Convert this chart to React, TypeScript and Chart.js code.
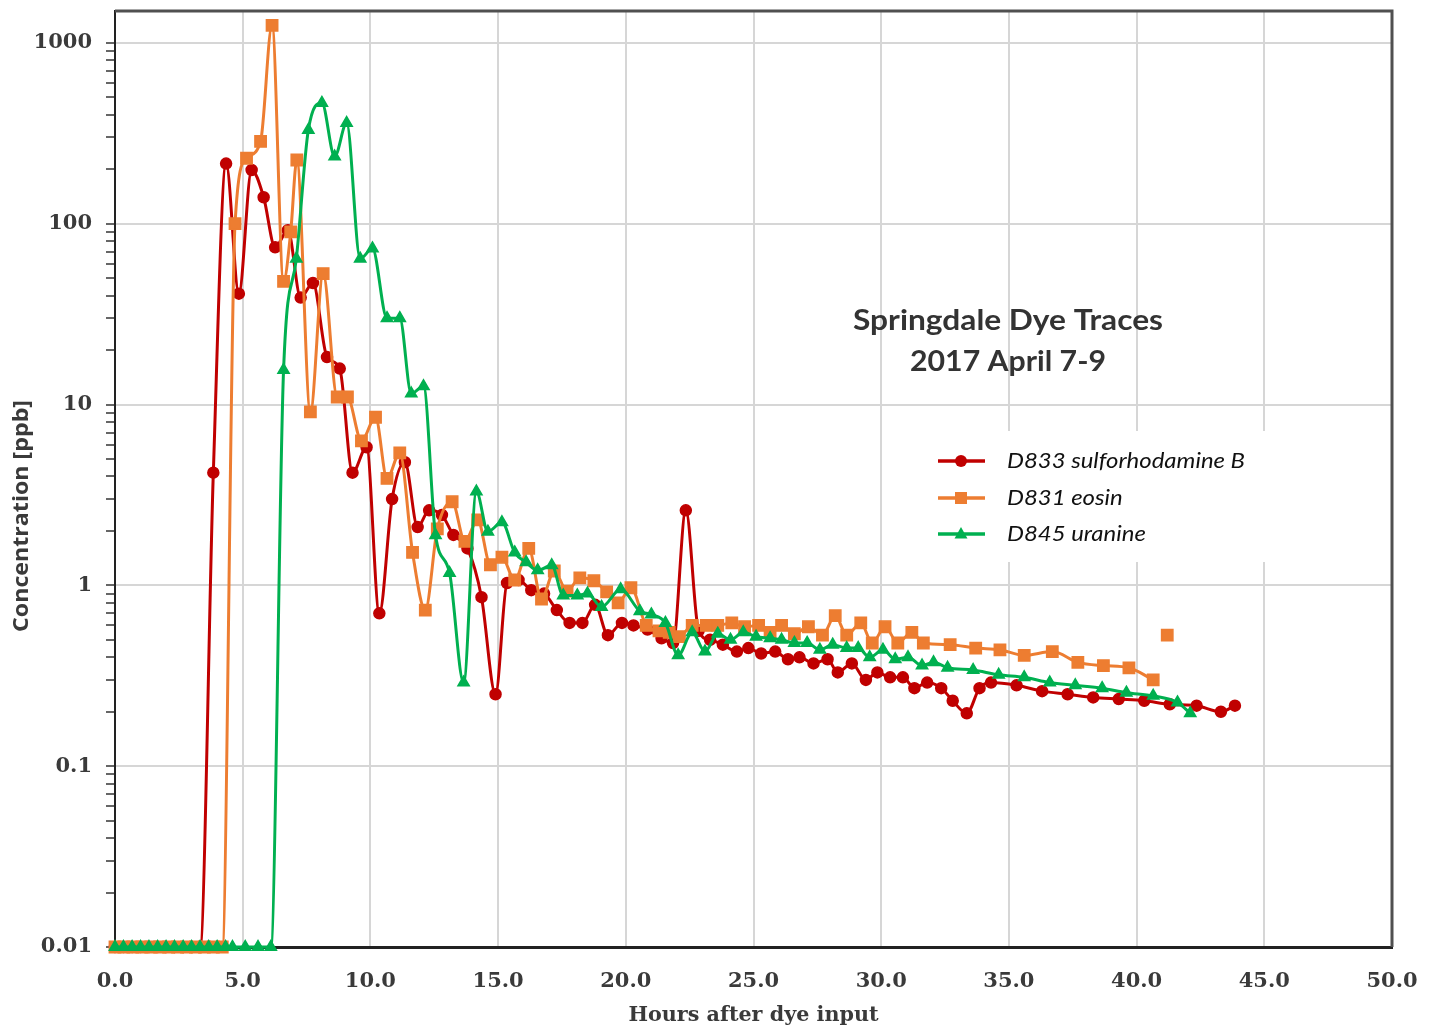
import { useEffect, useRef } from 'react';
import { Chart, registerables } from 'chart.js';

Chart.register(...registerables);

// ---------- Data (hours after dye input, concentration in ppb) ----------
const redHours = [0, 0.33, 0.67, 1, 1.33, 1.67, 2, 2.33, 2.67, 3, 3.33,
  3.85, 4.35, 4.85, 5.35, 5.82, 6.27, 6.77, 7.27, 7.75, 8.3, 8.8, 9.3, 9.85, 10.35, 10.85, 11.35, 11.85,
  12.3, 12.8, 13.25, 13.8, 14.35, 14.9, 15.35, 15.8, 16.3, 16.8, 17.3, 17.8, 18.3, 18.8, 19.3, 19.85,
  20.3, 20.85, 21.4, 21.85, 22.35, 22.85, 23.3, 23.8, 24.35, 24.8, 25.3, 25.85, 26.35, 26.8, 27.35,
  27.9, 28.3, 28.85, 29.4, 29.85, 30.35, 30.85, 31.3, 31.8, 32.35, 32.8, 33.35, 33.85, 34.3, 35.3,
  36.3, 37.3, 38.3, 39.3, 40.3, 41.3, 42.35, 43.3, 43.85];
const redValues = [0.01, 0.01, 0.01, 0.01, 0.01, 0.01, 0.01, 0.01, 0.01, 0.01, 0.01,
  4.2, 215, 41, 198, 140, 74, 92, 39, 47, 18.3, 15.8, 4.2, 5.8, 0.7, 3.0, 4.8, 2.1,
  2.6, 2.45, 1.9, 1.6, 0.86, 0.25, 1.03, 1.07, 0.94, 0.9, 0.73, 0.62, 0.62, 0.78, 0.53, 0.62,
  0.6, 0.57, 0.51, 0.48, 2.6, 0.56, 0.5, 0.47, 0.43, 0.45, 0.42, 0.43, 0.39, 0.4, 0.37,
  0.39, 0.33, 0.37, 0.3, 0.33, 0.31, 0.31, 0.27, 0.29, 0.27, 0.23, 0.196, 0.27, 0.29, 0.28,
  0.26, 0.25, 0.24, 0.235, 0.23, 0.22, 0.216, 0.2, 0.216];

const orangeHours = [0, 0.35, 0.7, 1.05, 1.4, 1.75, 2.1, 2.45, 2.8, 3.15, 3.5, 3.85, 4.2,
  4.7, 5.15, 5.7, 6.15, 6.6, 6.88, 7.12, 7.65, 8.15, 8.7, 9.1, 9.65, 10.2, 10.65, 11.15, 11.65,
  12.15, 12.62, 13.2, 13.7, 14.2, 14.7, 15.15, 15.65, 16.2, 16.7, 17.2, 17.7, 18.2, 18.75, 19.25,
  19.7, 20.2, 20.8, 21.3, 21.7, 22.1, 22.6, 23.15, 23.6, 24.15, 24.65, 25.2, 25.65, 26.1, 26.6,
  27.15, 27.7, 28.2, 28.65, 29.2, 29.65, 30.15, 30.65, 31.2, 31.65, 32.7, 33.7, 34.65, 35.6,
  36.7, 37.7, 38.7, 39.7, 40.65, 40.9, 41.2];
const orangeValues = [0.01, 0.01, 0.01, 0.01, 0.01, 0.01, 0.01, 0.01, 0.01, 0.01, 0.01, 0.01, 0.01,
  100, 230, 285, 1250, 48, 90, 225, 9.1, 53, 11, 11, 6.3, 8.5, 3.9, 5.4, 1.52,
  0.73, 2.05, 2.9, 1.75, 2.3, 1.3, 1.43, 1.07, 1.6, 0.84, 1.2, 0.93, 1.1, 1.06, 0.92,
  0.8, 0.97, 0.6, 0.56, 0.55, 0.52, 0.6, 0.6, 0.6, 0.62, 0.59, 0.6, 0.55, 0.6, 0.54,
  0.59, 0.53, 0.68, 0.53, 0.62, 0.48, 0.59, 0.48, 0.55, 0.48, 0.47, 0.45, 0.44, 0.41,
  0.43, 0.375, 0.36, 0.35, 0.3, null, 0.53];

const greenHours = [0, 0.33, 0.67, 1, 1.33, 1.67, 2, 2.33, 2.67, 3, 3.33, 3.67, 4, 4.33, 4.6, 5.1, 5.6, 6.1,
  6.6, 7.1, 7.57, 8.1, 8.6, 9.07, 9.6, 10.08, 10.65, 11.15, 11.6, 12.08, 12.55, 13.1, 13.65, 14.15,
  14.6, 15.15, 15.65, 16.1, 16.55, 17.1, 17.55, 18.1, 18.5, 19.05, 19.8, 20.55, 21.0, 21.55, 22.05,
  22.6, 23.1, 23.6, 24.1, 24.6, 25.1, 25.65, 26.1, 26.6, 27.1, 27.6, 28.1, 28.65, 29.1, 29.55,
  30.07, 30.55, 31.05, 31.6, 32.05, 32.6, 33.6, 34.6, 35.6, 36.6, 37.6, 38.65, 39.6, 40.65, 41.6, 42.1];
const greenValues = [0.01, 0.01, 0.01, 0.01, 0.01, 0.01, 0.01, 0.01, 0.01, 0.01, 0.01, 0.01, 0.01, 0.01, 0.01, 0.01, 0.01, 0.01,
  15.5, 64, 330, 465, 235, 360, 64, 73, 30, 30, 11.5, 12.6, 1.89, 1.17, 0.29, 3.3,
  1.98, 2.23, 1.52, 1.34, 1.21, 1.29, 0.88, 0.88, 0.9, 0.76, 0.95, 0.72, 0.69, 0.62, 0.41,
  0.55, 0.43, 0.54, 0.5, 0.55, 0.52, 0.51, 0.5, 0.48, 0.48, 0.44, 0.47, 0.45, 0.45, 0.4,
  0.44, 0.39, 0.4, 0.36, 0.375, 0.35, 0.34, 0.32, 0.31, 0.29, 0.28, 0.27, 0.255, 0.245, 0.225, 0.196];

const seriesNames = ['D833 sulforhodamine B', 'D831 eosin', 'D845 uranine'];
const seriesColors = ['#c00000', '#ed7d31', '#00b050'];
const seriesMarkers = ['circle', 'rect', 'triangle'];

const yDecades = [0.01, 0.1, 1, 10, 100, 1000];
const yDecadeLabels = ['0.01', '0.1', '1', '10', '100', '1000'];
const xTickStep = 5;

const chartTitle = ['Springdale Dye Traces', '2017 April 7-9'];
const xTitle = 'Hours after dye input';
const yTitle = 'Concentration [ppb]';

// ---------- helpers ----------
const toPoints = (h: number[], v: (number | null)[]) => h.map((x, i) => ({ x, y: v[i] }));

const yTickValues: number[] = [];
yDecades.forEach((d) => {
  for (let k = 1; k <= 9; k++) {
    const v = Number((d * k).toPrecision(3));
    if (v <= 1000) yTickValues.push(v);
  }
});
const decadeSet = new Set(yDecades);

function fitText(ctx: CanvasRenderingContext2D, text: string, x: number, y: number, target: number, font: string) {
  ctx.save();
  ctx.font = font;
  const w = ctx.measureText(text).width;
  ctx.translate(x, y);
  ctx.scale(target / w, 1);
  ctx.textAlign = 'center';
  ctx.textBaseline = 'middle';
  ctx.fillText(text, 0, 0);
  ctx.restore();
}

function drawMarker(ctx: CanvasRenderingContext2D, kind: string, x: number, y: number, color: string) {
  ctx.save();
  ctx.fillStyle = color;
  ctx.beginPath();
  if (kind === 'circle') {
    ctx.arc(x, y, 6, 0, Math.PI * 2);
  } else if (kind === 'rect') {
    ctx.rect(x - 6, y - 6, 12, 12);
  } else {
    ctx.moveTo(x, y - 7);
    ctx.lineTo(x + 6.5, y + 4.5);
    ctx.lineTo(x - 6.5, y + 4.5);
    ctx.closePath();
  }
  ctx.fill();
  ctx.restore();
}

const decoPlugin = {
  id: 'deco',
  beforeDatasetsDraw(chart: any) {
    const { ctx, chartArea } = chart;
    ctx.save();
    ctx.strokeStyle = '#505050';
    ctx.lineWidth = 3;
    ctx.beginPath();
    ctx.moveTo(chartArea.left, chartArea.top);
    ctx.lineTo(chartArea.right, chartArea.top);
    ctx.lineTo(chartArea.right, chartArea.bottom);
    ctx.stroke();
    ctx.restore();
  },
  afterDraw(chart: any) {
    const { ctx, chartArea } = chart;
    ctx.save();
    // chart title
    ctx.fillStyle = '#333333';
    fitText(ctx, chartTitle[0], 1008, 321, 310, 'bold 28px Lato');
    fitText(ctx, chartTitle[1], 1008, 362, 196, 'bold 28px Lato');

    // legend
    ctx.fillStyle = '#ffffff';
    ctx.fillRect(915, 431, 350, 131);
    const rows = [461, 498, 534];
    const legendFont = 'italic 22px Lato';
    ctx.font = legendFont;
    const legendScale = 238 / ctx.measureText(seriesNames[0]).width;
    rows.forEach((ry, i) => {
      ctx.strokeStyle = seriesColors[i];
      ctx.lineWidth = 3.5;
      ctx.beginPath();
      ctx.moveTo(938, ry);
      ctx.lineTo(985, ry);
      ctx.stroke();
      drawMarker(ctx, seriesMarkers[i], 961, ry, seriesColors[i]);
      ctx.save();
      ctx.fillStyle = '#111111';
      ctx.font = legendFont;
      ctx.textAlign = 'left';
      ctx.textBaseline = 'middle';
      ctx.translate(1007, ry);
      ctx.scale(legendScale, 1);
      ctx.fillText(seriesNames[i], 0, 0);
      ctx.restore();
    });

    // axis titles
    ctx.fillStyle = '#3a3a3a';
    fitText(ctx, xTitle, (chartArea.left + chartArea.right) / 2, 1016, 250, 'bold 21px "DejaVu Serif"');
    ctx.save();
    ctx.translate(22, 516);
    ctx.rotate(-Math.PI / 2);
    fitText(ctx, yTitle, 0, 0, 232, 'bold 21px "Open Sans"');
    ctx.restore();
    ctx.restore();
  },
};

export default function App() {
  const canvasRef = useRef<HTMLCanvasElement | null>(null);

  useEffect(() => {
    document.body.style.margin = '0';
    const canvas = canvasRef.current;
    if (!canvas) return;

    const common = {
      borderWidth: 3,
      pointBorderWidth: 1.5,
      cubicInterpolationMode: 'monotone' as const,
      clip: false as any,
      spanGaps: false,
    };

    const chart = new Chart(canvas, {
      type: 'line',
      data: {
        datasets: [
          {
            ...common,
            label: seriesNames[0],
            data: toPoints(redHours, redValues),
            borderColor: seriesColors[0],
            backgroundColor: seriesColors[0],
            pointBackgroundColor: seriesColors[0],
            pointStyle: 'circle',
            pointRadius: 5.5,
            order: 3,
          },
          {
            ...common,
            label: seriesNames[1],
            data: toPoints(orangeHours, orangeValues),
            borderColor: seriesColors[1],
            backgroundColor: seriesColors[1],
            pointBackgroundColor: seriesColors[1],
            pointStyle: 'rect',
            pointRadius: 8,
            order: 2,
          },
          {
            ...common,
            label: seriesNames[2],
            data: toPoints(greenHours, greenValues),
            borderColor: seriesColors[2],
            backgroundColor: seriesColors[2],
            pointBackgroundColor: seriesColors[2],
            pointStyle: 'triangle',
            pointRadius: 6.5,
            order: 1,
          },
        ],
      },
      options: {
        responsive: false,
        animation: false,
        devicePixelRatio: 1,
        layout: { padding: { left: 0, right: 44, top: 11, bottom: 0 } },
        plugins: {
          legend: { display: false },
          tooltip: { enabled: false },
        },
        scales: {
          x: {
            type: 'linear',
            min: 0,
            max: 50,
            ticks: {
              stepSize: xTickStep,
              autoSkip: false,
              maxRotation: 0,
              padding: 22,
              color: '#3a3a3a',
              font: { family: '"DejaVu Serif"', weight: 'bold', size: 21 },
              callback: (v: any) => Number(v).toFixed(1),
            },
            grid: { color: '#d6d6d6', lineWidth: 2, drawTicks: false },
            border: { display: true, color: '#222222', width: 3 },
            afterFit: (s: any) => {
              s.height = 84;
              s.paddingLeft = 0;
              s.paddingRight = 0;
            },
          },
          y: {
            type: 'logarithmic',
            min: 0.01,
            max: 1500,
            afterBuildTicks: (s: any) => {
              s.ticks = yTickValues.map((v) => ({ value: v }));
            },
            ticks: {
              autoSkip: false,
              padding: 14,
              color: '#3a3a3a',
              font: { family: '"DejaVu Serif"', weight: 'bold', size: 21 },
              callback: (v: any) => {
                const i = yDecades.indexOf(Number(v));
                return i >= 0 ? yDecadeLabels[i] : '';
              },
            },
            grid: {
              color: (c: any) => (c.tick && decadeSet.has(c.tick.value) ? '#d6d6d6' : 'rgba(0,0,0,0)'),
              lineWidth: 2,
              tickLength: 9,
              tickColor: '#333333',
              tickWidth: 1.5,
            } as any,
            border: { display: true, color: '#222222', width: 2 },
            afterFit: (s: any) => {
              s.width = 115;
              s.paddingTop = 0;
              s.paddingBottom = 0;
            },
          },
        },
      } as any,
      plugins: [decoPlugin],
    });

    return () => chart.destroy();
  }, []);

  return <canvas ref={canvasRef} width={1436} height={1031} style={{ display: 'block' }} />;
}
